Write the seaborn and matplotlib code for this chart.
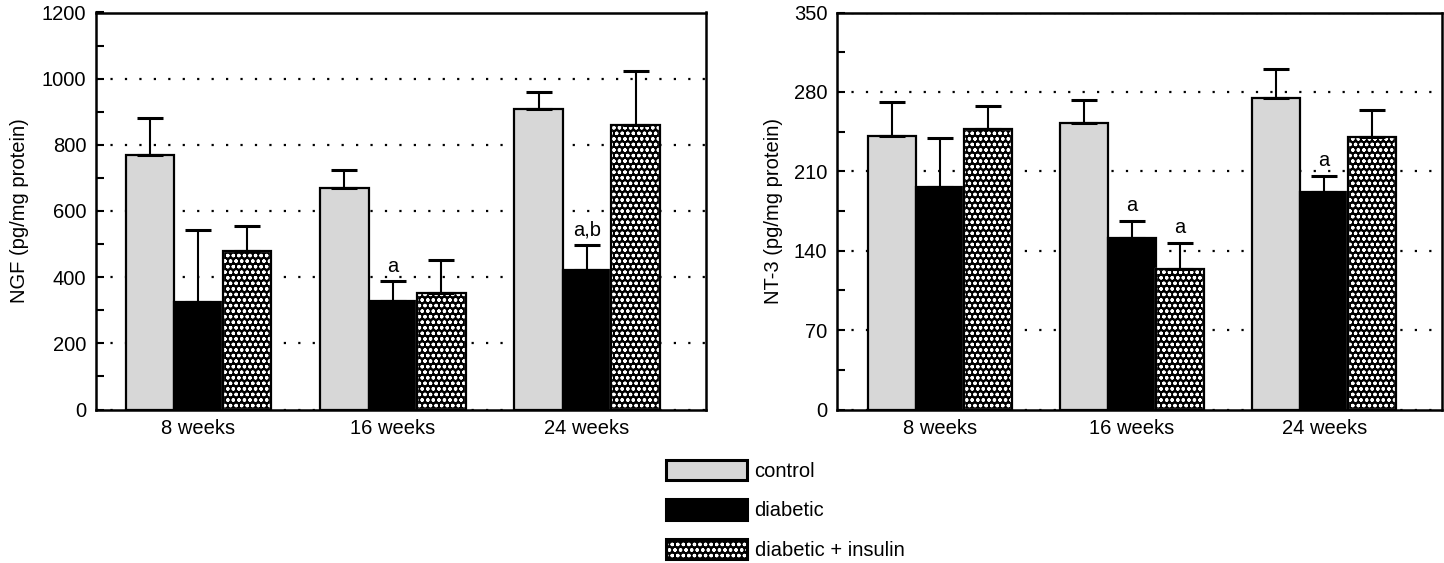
import numpy as np
import pandas as pd
import matplotlib
matplotlib.use("Agg")
import matplotlib.pyplot as plt
import seaborn as sns
from matplotlib.patches import Patch, Rectangle
from matplotlib.legend_handler import HandlerTuple
from matplotlib.ticker import MultipleLocator

# ---------------- data ----------------
weeks = ["8 weeks", "16 weeks", "24 weeks"]
conditions = ["control", "diabetic", "diabetic + insulin"]

ngf_control = [770, 670, 908]
ngf_control_err = [111, 54, 52]
ngf_diabetic = [326, 329, 422]
ngf_diabetic_err = [216, 58, 74]
ngf_insulin = [478, 352, 861]
ngf_insulin_err = [76, 101, 162]

nt3_control = [241, 253, 275]
nt3_control_err = [30, 20, 25]
nt3_diabetic = [196, 151, 192]
nt3_diabetic_err = [43, 15, 14]
nt3_insulin = [247, 124, 240]
nt3_insulin_err = [21, 23, 24]

ngf_notes = [("16 weeks", "diabetic", "a"), ("24 weeks", "diabetic", "a,b")]
nt3_notes = [("16 weeks", "diabetic", "a"), ("16 weeks", "diabetic + insulin", "a"),
             ("24 weeks", "diabetic", "a")]

ngf_ticks = [0, 200, 400, 600, 800, 1000, 1200]
nt3_ticks = [0, 70, 140, 210, 280, 350]

# ---------------- style ----------------
sns.set_style("white", {"axes.edgecolor": "black", "text.color": "black",
                        "xtick.color": "black", "ytick.color": "black",
                        "axes.labelcolor": "black"})
plt.rcParams["font.family"] = ["Liberation Sans", "DejaVu Sans"]
plt.rcParams["hatch.linewidth"] = 0.9

CTRL = "#d7d7d7"
palette = [CTRL, "black", "black"]
FS = 14.5
HATCH = "ooo"


def panel(ax, means, errs, ticks, minor, ylabel, notes, xlim, labelpad):
    rows = []
    for cond, m in zip(conditions, means):
        for w, v in zip(weeks, m):
            rows.append((w, cond, v))
    df = pd.DataFrame(rows, columns=["week", "condition", "value"])
    sns.barplot(data=df, x="week", y="value", hue="condition", order=weeks,
                hue_order=conditions, palette=palette, saturation=1,
                width=0.75, errorbar=None, legend=False, edgecolor="black",
                linewidth=1.6, ax=ax, zorder=2)
    bars = list(ax.containers)[:len(conditions)]
    for ci, cont in enumerate(bars):
        for wi, bar in enumerate(cont):
            if conditions[ci] == "diabetic + insulin":
                bar.set_edgecolor("white")
                bar.set_hatch(HATCH)
                ax.add_patch(Rectangle((bar.get_x(), bar.get_y()), bar.get_width(),
                                       bar.get_height(), fill=False,
                                       edgecolor="black", linewidth=1.6, zorder=2.5))
            xc = bar.get_x() + bar.get_width() / 2
            top = bar.get_height()
            ax.errorbar([xc], [top], yerr=[[0], [errs[ci][wi]]], fmt="none",
                        ecolor="black", elinewidth=1.5, capsize=9.5, capthick=2.2,
                        zorder=3)
    for w, cond, txt in notes:
        ci, wi = conditions.index(cond), weeks.index(w)
        bar = bars[ci][wi]
        xc = bar.get_x() + bar.get_width() / 2
        ax.annotate(txt, xy=(xc, bar.get_height() + errs[ci][wi]), xytext=(0, 7),
                    textcoords="offset points", ha="center", va="baseline",
                    fontsize=FS)
    ax.set_ylim(ticks[0], ticks[-1])
    ax.set_yticks(ticks)
    ax.yaxis.set_minor_locator(MultipleLocator(minor))
    ax.set_xlim(*xlim)
    ax.set_axisbelow(True)
    ax.yaxis.grid(True, which="major", linestyle=(0, (1, 5.5)), linewidth=1.6,
                  color="black")
    ax.xaxis.grid(False)
    ax.tick_params(axis="y", which="both", direction="in", length=6, width=1.5,
                   labelsize=FS, pad=7, left=True)
    ax.tick_params(axis="x", length=0, labelsize=FS, pad=7)
    ax.set_xlabel("")
    ax.set_ylabel(ylabel, fontsize=FS, labelpad=labelpad)
    for s in ax.spines.values():
        s.set_visible(True)
        s.set_linewidth(1.8)
        s.set_color("black")


fig = plt.figure(figsize=(14.44, 5.63), dpi=100)
W, H = 1444, 563
ax1 = fig.add_axes([96 / W, 1 - 409.5 / H, 610 / W, 397 / H])
ax2 = fig.add_axes([837 / W, 1 - 409.5 / H, 605 / W, 397 / H])

panel(ax1, [ngf_control, ngf_diabetic, ngf_insulin],
      [ngf_control_err, ngf_diabetic_err, ngf_insulin_err],
      ngf_ticks, 100, "NGF (pg/mg protein)", ngf_notes, (-0.5275, 2.612), 9)
panel(ax2, [nt3_control, nt3_diabetic, nt3_insulin],
      [nt3_control_err, nt3_diabetic_err, nt3_insulin_err],
      nt3_ticks, 35, "NT-3 (pg/mg protein)", nt3_notes, (-0.535, 2.613), 8)

handles = [
    Patch(facecolor=CTRL, edgecolor="black", linewidth=2.2),
    Patch(facecolor="black", edgecolor="black", linewidth=2.2),
    (Patch(facecolor="black", edgecolor="white", hatch=HATCH, linewidth=0),
     Patch(fill=False, edgecolor="black", linewidth=2.2)),
]
fig.legend(handles, conditions, loc="upper left",
           bbox_to_anchor=(666 / W, 1 - 459.5 / H), frameon=False, borderpad=0,
           borderaxespad=0, handlelength=4.0, handleheight=1.2,
           labelspacing=0.92, handletextpad=0.4, fontsize=FS,
           handler_map={tuple: HandlerTuple(ndivide=1)})

fig.savefig("out.png", dpi=100)
